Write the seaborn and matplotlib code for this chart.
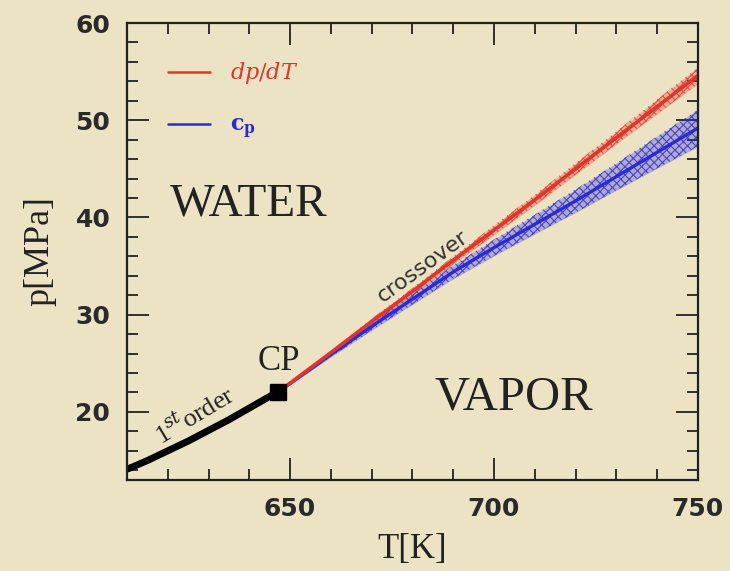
import numpy as np
import pandas as pd
import seaborn as sns
import matplotlib
matplotlib.use("Agg")
import matplotlib.pyplot as plt
from matplotlib.lines import Line2D
from matplotlib.ticker import MultipleLocator

# ---- data ----
T_first = [610, 615, 620, 625, 630, 635, 640, 645, 647.1]
p_first = [14.1, 15.0, 16.0, 17.0, 18.1, 19.2, 20.4, 21.6, 22.06]

T_cross = [647.1, 660, 670, 680, 690, 700, 710, 720, 730, 740, 750]
p_dpdT = [22.06, 26.1, 29.3, 32.4, 35.6, 38.7, 41.8, 45.0, 48.2, 51.4, 54.6]
err_dpdT = [0.1, 0.2, 0.3, 0.35, 0.4, 0.5, 0.55, 0.6, 0.65, 0.75, 0.85]
p_cp = [22.06, 25.9, 28.8, 31.6, 34.4, 36.9, 39.3, 41.7, 44.2, 46.7, 49.2]
err_cp = [0.1, 0.25, 0.4, 0.55, 0.7, 0.85, 1.0, 1.2, 1.4, 1.65, 1.9]

CP_T, CP_p = [647.1], [22.06]

xlim = (610, 750)
ylim = (13, 60)
xticks = [650, 700, 750]
yticks = [20, 30, 40, 50, 60]

BG = "#ECE3C4"
RED = "#E0352A"
BLUE = "#2A2AD8"
INK = "#222222"

sns.set_theme(style="ticks")
plt.rcParams["font.family"] = ["DejaVu Sans"]
plt.rcParams["mathtext.fontset"] = "dejavuserif"
plt.rcParams["hatch.linewidth"] = 0.8

fig = plt.figure(figsize=(7.3, 5.71), dpi=100, facecolor=BG)
ax = fig.add_axes([0.174, 0.1594, 0.782, 0.8003])
ax.set_facecolor(BG)

df_first = pd.DataFrame({"T": T_first, "p": p_first})
df_cross = pd.DataFrame({"T": T_cross, "dpdT": p_dpdT, "cp": p_cp,
                         "edp": err_dpdT, "ecp": err_cp})

# bands
for col, ecol, c in [("cp", "ecp", BLUE), ("dpdT", "edp", RED)]:
    lo = df_cross[col] - df_cross[ecol]
    hi = df_cross[col] + df_cross[ecol]
    ax.fill_between(df_cross["T"], lo, hi, color=c, alpha=0.3, linewidth=0)
    ax.fill_between(df_cross["T"], lo, hi, facecolor="none", edgecolor=c,
                    hatch="xxxx", linewidth=0, alpha=0.8)

sns.lineplot(data=df_cross, x="T", y="cp", color=BLUE, lw=2.4, ax=ax)
sns.lineplot(data=df_cross, x="T", y="dpdT", color=RED, lw=2.6, ax=ax)
sns.lineplot(data=df_first, x="T", y="p", color="black", lw=5, ax=ax,
             solid_capstyle="butt")
ax.plot(CP_T, CP_p, marker="s", color="black", markersize=11, ls="none")

ax.set_xlim(*xlim)
ax.set_ylim(*ylim)
ax.set_xticks(xticks)
ax.set_yticks(yticks)
ax.xaxis.set_minor_locator(MultipleLocator(10))
ax.yaxis.set_minor_locator(MultipleLocator(2))
ax.tick_params(which="both", direction="in", top=True, right=True,
               color=INK, width=1.3)
ax.tick_params(which="major", length=16, pad=12, labelsize=18)
ax.tick_params(which="minor", length=8)
for lab in ax.get_xticklabels() + ax.get_yticklabels():
    lab.set_fontweight("bold")
    lab.set_color("#2a2a2a")
for s in ax.spines.values():
    s.set_linewidth(1.6)
    s.set_color(INK)

serif = "Liberation Serif"
ax.set_xlabel("T[K]", family=serif, fontsize=25, labelpad=9, color=INK)
ax.set_ylabel("p[MPa]", family=serif, fontsize=26, labelpad=14, color=INK)

ax.text(639.8, 41.4, "WATER", family=serif, fontsize=34, ha="center",
        va="center", color=INK)
ax.text(704.9, 21.5, "VAPOR", family=serif, fontsize=35, ha="center",
        va="center", color=INK)
ax.text(647.3, 25.2, "CP", family=serif, fontsize=25, ha="center",
        va="center", color=INK)
ax.text(626.6, 19.6, "1$^{st}$order", family=serif, fontsize=19,
        ha="center", va="center", rotation=31, color=INK,
        rotation_mode="anchor")
ax.text(682.4, 35.0, "crossover", family="DejaVu Sans", fontsize=16,
        ha="center", va="center", rotation=36, color="#333333",
        rotation_mode="anchor")

handles = [Line2D([], [], color=RED, lw=1.8), Line2D([], [], color=BLUE, lw=1.8)]
ax.legend(handles, ["$dp/dT$", r"$\mathbf{c_p}$"], loc="upper left",
          bbox_to_anchor=(0.072, 0.918), frameon=False, fontsize=16,
          labelcolor=[RED, BLUE], handlelength=1.9, handletextpad=0.9,
          labelspacing=1.3, borderpad=0, borderaxespad=0)

fig.savefig("out.png", dpi=100, facecolor=BG)
